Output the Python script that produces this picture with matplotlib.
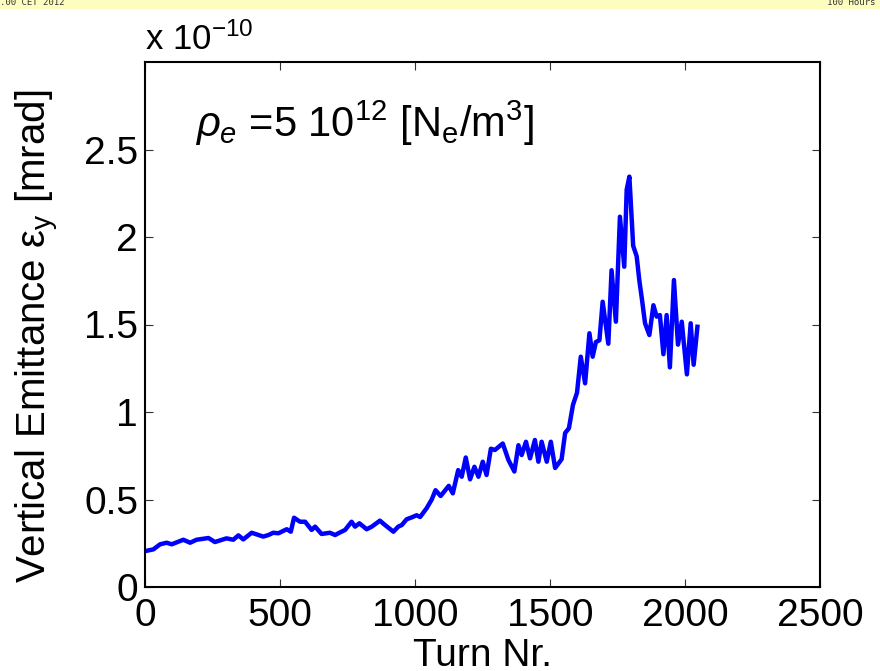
import matplotlib.pyplot as plt
from matplotlib.patches import Rectangle

plt.rcParams['font.family'] = ['Liberation Sans', 'DejaVu Sans']
plt.rcParams['mathtext.fontset'] = 'custom'
plt.rcParams['mathtext.rm'] = 'Liberation Sans'
plt.rcParams['mathtext.it'] = 'Liberation Sans:italic'

# turn number and vertical emittance (in units of 1e-10 mrad)
turns = [0, 31, 56, 80, 99, 142, 167, 191, 235, 259, 302, 327, 346, 364, 395,
         438, 457, 475, 494, 525, 540, 552, 574, 593, 617, 630, 654, 685, 704,
         720, 741, 765, 778, 794, 821, 840, 870, 889, 920, 938, 951, 969, 988,
         1006, 1019, 1043, 1062, 1076, 1095, 1125, 1140, 1160, 1173, 1188, 1204,
         1220, 1235, 1251, 1265, 1281, 1296, 1325, 1346, 1368, 1383, 1395, 1411,
         1426, 1444, 1457, 1469, 1488, 1503, 1519, 1543, 1556, 1570, 1585, 1600,
         1614, 1630, 1646, 1658, 1670, 1683, 1695, 1716, 1728, 1744, 1759, 1775,
         1784, 1794, 1808, 1821, 1831, 1840, 1852, 1868, 1883, 1895, 1907, 1920,
         1932, 1944, 1959, 1974, 1988, 2007, 2021, 2032, 2046]
emittance = [0.205, 0.215, 0.244, 0.253, 0.244, 0.27, 0.253, 0.27, 0.28, 0.257,
             0.278, 0.27, 0.295, 0.272, 0.31, 0.288, 0.297, 0.31, 0.307, 0.33,
             0.316, 0.396, 0.373, 0.373, 0.326, 0.345, 0.303, 0.31, 0.297, 0.31,
             0.326, 0.373, 0.345, 0.364, 0.33, 0.345, 0.379, 0.354, 0.316, 0.345,
             0.354, 0.387, 0.398, 0.41, 0.40, 0.45, 0.50, 0.553, 0.52, 0.578,
             0.535, 0.668, 0.63, 0.74, 0.615, 0.687, 0.63, 0.716, 0.64, 0.79,
             0.783, 0.82, 0.726, 0.66, 0.81, 0.754, 0.83, 0.735, 0.84, 0.716,
             0.83, 0.716, 0.83, 0.68, 0.73, 0.88, 0.907, 1.04, 1.11, 1.316,
             1.164, 1.45, 1.316, 1.40, 1.41, 1.63, 1.39, 1.81, 1.516, 2.116,
             1.83, 2.27, 2.345, 1.95, 1.89, 1.75, 1.65, 1.507, 1.44, 1.61,
             1.545, 1.554, 1.33, 1.554, 1.255, 1.754, 1.385, 1.516, 1.215, 1.507,
             1.27, 1.487]

xticks = [0, 500, 1000, 1500, 2000, 2500]
yticks = [0, 0.5, 1, 1.5, 2, 2.5]
ytick_labels = ['0', '0.5', '1', '1.5', '2', '2.5']

fig = plt.figure(figsize=(8.8, 6.71), dpi=100)

# yellow banner strip at the very top
fig.patches.append(Rectangle((0, 1 - 9 / 671), 1, 9 / 671, transform=fig.transFigure,
                             facecolor='#fdfdc0', edgecolor='none'))
fig.text(0.0, 1 + 2 / 671, '.00 CET 2012', fontsize=6.5, family='DejaVu Sans Mono',
         va='top', ha='left', color='#333333')
fig.text(0.995, 1 + 2 / 671, '100 Hours', fontsize=6.5, family='DejaVu Sans Mono',
         va='top', ha='right', color='#333333')

ax = fig.add_axes([145 / 880, 1 - 587 / 671, 675 / 880, 525 / 671])
ax.plot(turns, emittance, color='#0000ff', lw=3.2, solid_joinstyle='round')

ax.set_xlim(0, 2500)
ax.set_ylim(0, 3)
ax.set_xticks(xticks)
ax.set_yticks(yticks)
ax.set_yticklabels(ytick_labels)
ax.tick_params(direction='in', length=6, width=0.8, labelsize=28, top=True, right=True,
               color='#333333')
ax.tick_params(axis='x', pad=8)
ax.tick_params(axis='y', pad=5)
for s in ax.spines.values():
    s.set_linewidth(1.5)

ax.set_xlabel('Turn Nr.', fontsize=28, labelpad=3)
ax.set_ylabel(r'Vertical Emittance $\mathrm{\varepsilon_{y}}$ [mrad]', fontsize=29)
ax.yaxis.set_label_coords(-0.124, 0.478)

ax.text(0, 1.01, r'x 10$^{-10}$', transform=ax.transAxes, fontsize=25,
        ha='left', va='bottom')
ax.text(185, 2.57, r'$\rho_e$ =5 10$^{12}$ [N$_\mathrm{e}$/m$^3$]', fontsize=30,
        ha='left', va='baseline')

fig.savefig('out.png', dpi=100)
